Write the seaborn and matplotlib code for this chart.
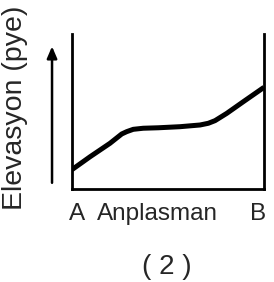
import pandas as pd
import seaborn as sns
import matplotlib
matplotlib.use('Agg')
import matplotlib.pyplot as plt

# position along the section A -> B, and relative elevation
anplasman = [0.0, 0.094, 0.198, 0.259, 0.285, 0.319, 0.371, 0.449, 0.563, 0.667, 0.710, 0.745, 0.806, 0.892, 1.0]
elevasyon = [0.125, 0.208, 0.295, 0.355, 0.370, 0.385, 0.392, 0.395, 0.402, 0.413, 0.424, 0.441, 0.488, 0.563, 0.656]
labels_x = ['A', 'Anplasman', 'B']
label_y = 'Elevasyon (pye)'
caption = '( 2 )'

sns.set_style('white')
plt.rcParams['font.family'] = ['Liberation Sans', 'DejaVu Sans']

data = pd.DataFrame({'x': anplasman, 'y': elevasyon})

fig = plt.figure(figsize=(2.74, 2.82), dpi=100)
ax = fig.add_axes([72 / 274, 1 - 189 / 282, 192 / 274, 155 / 282])

sns.lineplot(x='x', y='y', data=data, color='black', linewidth=3.6, ax=ax)
ax.lines[0].set_solid_capstyle('butt')
ax.lines[0].set_solid_joinstyle('round')

ax.set_xlim(0, 1)
ax.set_ylim(0, 1)
ax.set_xticks([])
ax.set_yticks([])
ax.set_xlabel('')
ax.set_ylabel('')
ax.spines['top'].set_visible(False)
for s in ['left', 'right', 'bottom']:
    ax.spines[s].set_color('black')
    ax.spines[s].set_linewidth(2)

# arrow next to the y axis
ax.annotate('', xy=(-0.104, 0.92), xytext=(-0.104, 0.04), xycoords='axes fraction',
            arrowprops=dict(arrowstyle='-|>,head_length=0.7,head_width=0.3',
                            color='black', lw=1.8, shrinkA=0, shrinkB=0),
            annotation_clip=False)

fig.text(15 / 274, 1 - 108 / 282, label_y, rotation=90, ha='center', va='center', fontsize=20.5)
fig.text(69 / 274, 1 - 220 / 282, labels_x[0], ha='left', va='baseline', fontsize=17.5)
fig.text(157 / 274, 1 - 220 / 282, labels_x[1], ha='center', va='baseline', fontsize=17.5)
fig.text(266 / 274, 1 - 220 / 282, labels_x[2], ha='right', va='baseline', fontsize=17.5)
fig.text(167 / 274, 1 - 267 / 282, caption, ha='center', va='center', fontsize=20)

fig.savefig('out.png', dpi=100)
